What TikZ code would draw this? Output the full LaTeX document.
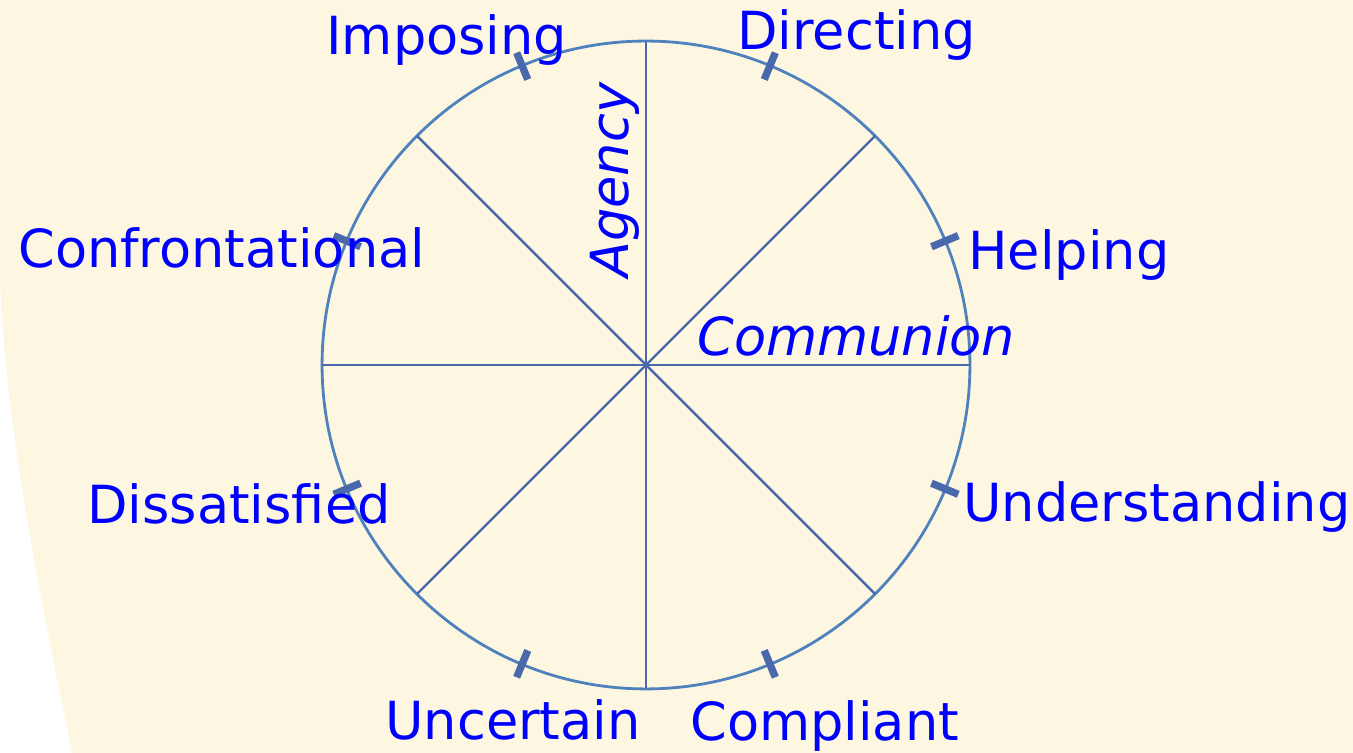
\documentclass[tikz,border=0pt]{standalone}
\usepackage{fontspec}
\setmainfont{DejaVu Sans}
\usetikzlibrary{positioning,calc}
\definecolor{cream}{HTML}{FDF7E2}
\definecolor{rimblue}{HTML}{4F81BD}
\definecolor{spokeblue}{HTML}{4A68AC}
\definecolor{lblblue}{HTML}{0000FF}
\tikzset{
  lbl/.style={inner sep=0pt, anchor=base west, text=lblblue, font=\fontsize{29.9pt}{36pt}\selectfont},
  axislbl/.style={lbl, font=\fontsize{29.9pt}{36pt}\selectfont\itshape},
  spoke/.style={draw=spokeblue, line width=1.4pt},
  notch/.style={draw=spokeblue, line width=4.2pt},
}
\begin{document}
\begin{tikzpicture}[x=0.02cm, y=0.02cm]
  \useasboundingbox (0,0) rectangle (1353,753);
  % background
  \fill[cream] (0,0) rectangle (1353,753);
  \fill[white] (0,473) .. controls (5,323) and (45,133) .. (72,0) -- (0,0) -- cycle;
  % wheel
  \node[circle, draw=rimblue, line width=1.6pt, minimum size=12.96cm, inner sep=0pt, outer sep=0pt] (wheel) at (646,388) {};
  \foreach \a in {0,45,90,135}
    \draw[spoke] (wheel.\a) -- (wheel.\the\numexpr\a+180\relax);
  \foreach \a in {22.5,67.5,112.5,157.5,202.5,247.5,292.5,337.5}
    \draw[notch] ($(wheel.center)+(\a:309)$) -- ($(wheel.center)+(\a:338)$);
  % labels
  \node[lbl] (imposing) at (326,698) {Imposing};
  \node[lbl] (directing) at (737,703) {Directing};
  \node[lbl] (confront) at (18,485) {Confrontational};
  \node[lbl] (helping) at (968,483) {Helping};
  \node[lbl] (dissat) at (87,229) {Dissatisfied};
  \node[lbl] (understand) at (963,231) {Understanding};
  \node[lbl] (uncertain) at (385,13) {Uncertain};
  \node[lbl] (compliant) at (690,12) {Compliant};
  \node[axislbl] (communion) at (697,397) {Communion};
  \node[axislbl, rotate=90] (agency) at (628,475) {Agency};
\end{tikzpicture}
\end{document}
